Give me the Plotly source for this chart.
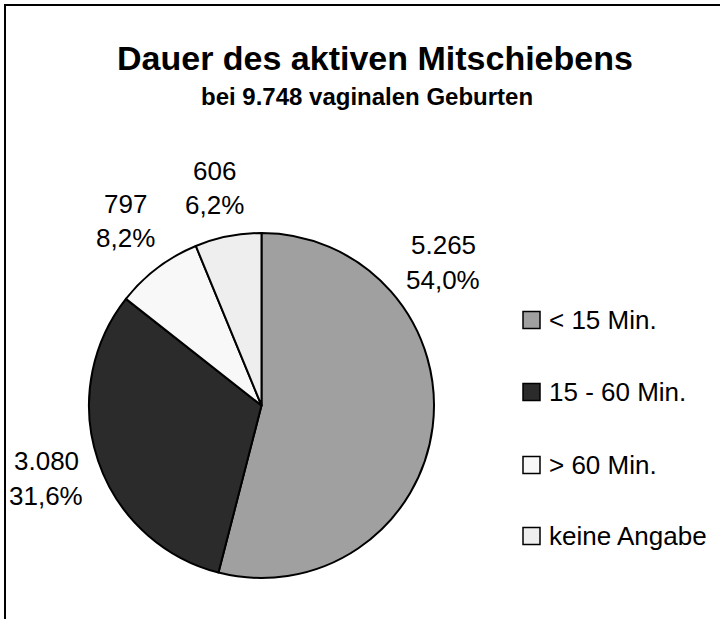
import plotly.graph_objects as go

# ---- data ----
categories = ["< 15 Min.", "15 - 60 Min.", "> 60 Min.", "keine Angabe"]
counts = [5265, 3080, 797, 606]
slice_colors = ["#a0a0a0", "#2b2b2b", "#f8f8f8", "#eeeeee"]
title_text = "Dauer des aktiven Mitschiebens"
subtitle_text = "bei 9.748 vaginalen Geburten"

W, H = 720, 619
FONT = "Liberation Sans, Arial, sans-serif"

total = sum(counts)


def de_int(n):
    return f"{n:,}".replace(",", ".")


def de_pct(v):
    return f"{v:.1f}".replace(".", ",") + "%"


count_txt = [de_int(c) for c in counts]
pct_txt = [de_pct(100 * c / total) for c in counts]

# pie geometry (pixels)
cx, cy, r = 261.5, 405.5, 172.5

fig = go.Figure()
fig.add_trace(go.Pie(
    labels=categories,
    values=counts,
    sort=False,
    direction="clockwise",
    rotation=0,
    marker=dict(colors=slice_colors, line=dict(color="#000000", width=2)),
    textinfo="none",
    hoverinfo="label+value+percent",
    showlegend=False,
    domain=dict(x=[(cx - r) / W, (cx + r) / W],
                y=[(H - cy - r) / H, (H - cy + r) / H]),
))


def px(x):
    return x / W


def py(y):
    return 1 - y / H


annotations = []
shapes = []

# data labels (count on first line, percentage on second)
label_pos = [(443, 245, 280), (46, 461, 496), (125, 204, 238), (214, 171, 205)]
for (lx, y1, y2), ct, pt in zip(label_pos, count_txt, pct_txt):
    for yy, t in ((y1, ct), (y2, pt)):
        annotations.append(dict(
            x=px(lx), y=py(yy), xref="paper", yref="paper",
            text=t, showarrow=False, xanchor="center", yanchor="middle",
            font=dict(family=FONT, size=26, color="#000000"),
        ))

# title
annotations.append(dict(
    x=px(375), y=py(58), xref="paper", yref="paper",
    text=f"<b>{title_text}</b>", showarrow=False,
    xanchor="center", yanchor="middle",
    font=dict(family=FONT, size=34, color="#000000"),
))
annotations.append(dict(
    x=px(367), y=py(97), xref="paper", yref="paper",
    text=f"<b>{subtitle_text}</b>", showarrow=False,
    xanchor="center", yanchor="middle",
    font=dict(family=FONT, size=24, color="#000000"),
))

# legend (custom)
leg_y = [320, 392, 465, 536]
for yy, cat, col in zip(leg_y, categories, slice_colors):
    shapes.append(dict(
        type="rect", xref="paper", yref="paper",
        x0=px(523), x1=px(540), y0=py(yy + 8.5), y1=py(yy - 8.5),
        fillcolor=col, line=dict(color="#000000", width=1.5),
    ))
    annotations.append(dict(
        x=px(547), y=py(yy), xref="paper", yref="paper",
        text=cat, showarrow=False, xanchor="left", yanchor="middle",
        font=dict(family=FONT, size=26, color="#000000"),
    ))

# chart border
shapes.append(dict(
    type="rect", xref="paper", yref="paper",
    x0=px(5), x1=px(740), y0=py(640), y1=py(5),
    line=dict(color="#000000", width=2), fillcolor="rgba(0,0,0,0)",
))

fig.update_layout(
    width=W, height=H,
    margin=dict(l=0, r=0, t=0, b=0),
    paper_bgcolor="#ffffff",
    plot_bgcolor="#ffffff",
    annotations=annotations,
    shapes=shapes,
    showlegend=False,
)

fig.write_html("out.html",
               config={"displayModeBar": False},
               post_script="document.body.style.margin='0px';"
                           "document.body.style.overflow='hidden';")
